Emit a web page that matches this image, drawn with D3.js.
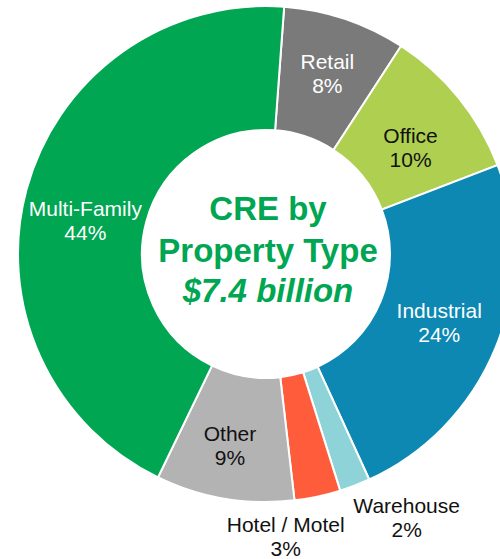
<!DOCTYPE html>
<html>
<head>
<meta charset="utf-8">
<script src="https://cdn.jsdelivr.net/npm/d3@7/dist/d3.min.js"></script>
<style>
  html, body { margin: 0; padding: 0; background: #fff; }
  svg { display: block; font-family: "Liberation Sans", Arial, sans-serif; }
</style>
</head>
<body>
<svg id="chart" width="500" height="559"></svg>
<script>
// Commercial real estate loans by property type (share of $7.4 billion)
const categories = ["Retail", "Office", "Industrial", "Warehouse", "Hotel / Motel", "Other", "Multi-Family"];
const shares = [8, 10, 24, 2, 3, 9, 44];
const sliceColors = ["#7a7a7a", "#aecf50", "#0c88b3", "#8dd3d8", "#ff5c3c", "#b3b3b3", "#00a651"];
const labelColors = ["#ffffff", "#111111", "#ffffff", "#111111", "#111111", "#111111", "#ffffff"];
const centerTitle = ["CRE by", "Property Type"];
const centerTotal = "$7.4 billion";

const svg = d3.select("#chart");
const cx = 266, cy = 254;
const outerR = 248, innerR = 124;
const startAngle = 4.2 * Math.PI / 180;

const g = svg.append("g").attr("transform", `translate(${cx},${cy})`);

const pie = d3.pie()
  .sort(null)
  .value(d => d.value)
  .startAngle(startAngle)
  .endAngle(startAngle + 2 * Math.PI);

const data = categories.map((c, i) => ({ name: c, value: shares[i], color: sliceColors[i], text: labelColors[i] }));
const arcs = pie(data);

const arc = d3.arc().innerRadius(innerR).outerRadius(outerR);
const midArc = d3.arc().innerRadius((innerR + outerR) / 2).outerRadius((innerR + outerR) / 2);

g.selectAll("path.slice")
  .data(arcs)
  .join("path")
  .attr("class", "slice")
  .attr("d", arc)
  .attr("fill", d => d.data.color)
  .attr("stroke", "#fff")
  .attr("stroke-width", 2)
  .attr("stroke-linejoin", "miter");

// label nudges from the slice centroid (first-line baseline)
const nudge = {
  "Retail": [2, -9],
  "Office": [0, 6],
  "Industrial": [1, -6],
  "Warehouse": [74, 85],
  "Hotel / Motel": [-19, 96],
  "Other": [-5, 4],
  "Multi-Family": [-1, 10]
};
const lineGap = 24;

const labels = g.selectAll("text.lbl")
  .data(arcs)
  .join("text")
  .attr("class", "lbl")
  .attr("text-anchor", "middle")
  .attr("font-size", 21)
  .attr("fill", d => d.data.text)
  .attr("transform", d => {
    const [x, y] = midArc.centroid(d);
    const [dx, dy] = nudge[d.data.name];
    return `translate(${x + dx},${y + dy})`;
  });

labels.append("tspan").attr("x", 0).attr("y", 0).text(d => d.data.name);
labels.append("tspan").attr("x", 0).attr("y", lineGap).text(d => d.data.value + "%");

// centre caption
const caption = svg.append("g")
  .attr("transform", `translate(268,0)`)
  .attr("fill", "#00a651")
  .attr("text-anchor", "middle")
  .attr("font-weight", "bold")
  .attr("font-size", 33);

caption.append("text").attr("y", 220).text(centerTitle[0]);
caption.append("text").attr("y", 262).text(centerTitle[1]);
caption.append("text").attr("y", 302).attr("font-style", "italic").text(centerTotal);
</script>
</body>
</html>
